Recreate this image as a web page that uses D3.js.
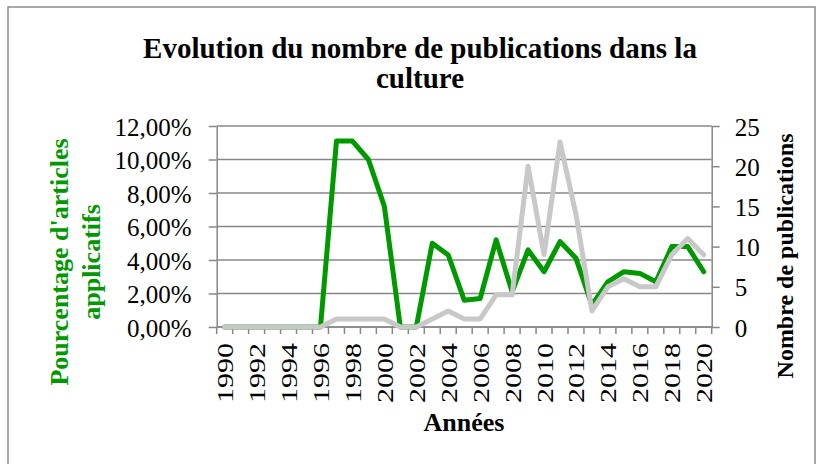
<!DOCTYPE html>
<html>
<head>
<meta charset="utf-8">
<script src="https://cdn.jsdelivr.net/npm/d3@7"></script>
<style>
  html, body { margin: 0; padding: 0; background: #fff; }
  svg { display: block; }
  text { font-family: "Liberation Serif", "Times New Roman", serif; }
</style>
</head>
<body>
<svg id="chart" width="821" height="464"></svg>
<script>
// Years on the category axis
const years = d3.range(1990, 2021);
// Share of applied articles (%), primary axis
const pctApplied = [0, 0, 0, 0, 0, 0, 0, 11.1, 11.1, 10.0, 7.2, 0, 0, 5.0, 4.3, 1.6, 1.7,
  5.2, 2.1, 4.6, 3.3, 5.1, 4.1, 1.3, 2.7, 3.3, 3.2, 2.7, 4.8, 4.8, 3.3];
// Number of publications, secondary axis
const pubCount = [0, 0, 0, 0, 0, 0, 0, 1, 1, 1, 1, 0, 0, 1, 2, 1, 1,
  4, 4, 20, 9, 23, 14, 2, 5, 6, 5, 5, 9, 11, 9];
// Tick values
const leftTicks = [0, 2, 4, 6, 8, 10, 12];
const rightTicks = [0, 5, 10, 15, 20, 25];
const yearLabels = d3.range(1990, 2021, 2);

const titleLines = ["Evolution du nombre de publications dans la", "culture"];
const leftTitleLines = ["Pourcentage d'articles", "applicatifs"];
const rightTitle = "Nombre de publications";
const xTitle = "Années";

const GREEN = "#009900";
const GREY_LINE = "#c8c8c8";
const AXIS = "#878787";

const svg = d3.select("#chart");

// outer chart frame
svg.append("rect")
  .attr("x", 8).attr("y", 7).attr("width", 807).attr("height", 480)
  .attr("fill", "#fff").attr("stroke", "#8c8c8c").attr("stroke-width", 1.5);

const plot = { left: 216.7, right: 711.7, top: 126, bottom: 327 };

const x = d3.scaleBand().domain(years).range([plot.left, plot.right]).padding(0);
const cx = d => x(d) + x.bandwidth() / 2;
const yL = d3.scaleLinear().domain([0, 12]).range([plot.bottom, plot.top]);
const yR = d3.scaleLinear().domain([0, 25]).range([plot.bottom, plot.top]);

// title
svg.append("text")
  .attr("x", 420).attr("text-anchor", "middle")
  .attr("font-size", 29).attr("font-weight", "bold").attr("fill", "#000")
  .selectAll("tspan").data(titleLines).join("tspan")
  .attr("x", 420).attr("y", (d, i) => 58 + i * 29.5)
  .text(d => d);

// horizontal gridlines
svg.append("g").selectAll("line").data(leftTicks).join("line")
  .attr("x1", plot.left).attr("x2", plot.right)
  .attr("y1", d => yL(d)).attr("y2", d => yL(d))
  .attr("stroke", AXIS).attr("stroke-width", 1.5);

// left axis
const leftAxis = d3.axisLeft(yL).tickValues(leftTicks).tickSize(8).tickSizeOuter(0)
  .tickFormat(d => d.toFixed(2).replace(".", ",") + "%");
const gL = svg.append("g").attr("transform", `translate(${plot.left},0)`).call(leftAxis);
gL.attr("font-family", null);
gL.select(".domain").attr("stroke", AXIS).attr("stroke-width", 1.5);
gL.selectAll(".tick line").attr("stroke", AXIS).attr("stroke-width", 1.5);
gL.selectAll(".tick text")
  .attr("x", -25).attr("dy", "0.36em")
  .attr("font-size", 25)
  .attr("fill", "#000");

// right axis
const rightAxis = d3.axisRight(yR).tickValues(rightTicks).tickSize(8).tickSizeOuter(0);
const gR = svg.append("g").attr("transform", `translate(${plot.right},0)`).call(rightAxis);
gR.attr("font-family", null);
gR.select(".domain").attr("stroke", AXIS).attr("stroke-width", 1.5);
gR.selectAll(".tick line").attr("stroke", AXIS).attr("stroke-width", 1.5);
gR.selectAll(".tick text")
  .attr("x", 23).attr("dy", "0.36em")
  .attr("font-size", 25)
  .attr("fill", "#000");

// category axis: ticks sit on the boundaries between years
const gX = svg.append("g");
gX.append("line")
  .attr("x1", plot.left).attr("x2", plot.right)
  .attr("y1", plot.bottom).attr("y2", plot.bottom)
  .attr("stroke", AXIS).attr("stroke-width", 1.5);
gX.selectAll("line.tk").data(years.concat([null])).join("line")
  .attr("class", "tk")
  .attr("x1", d => d === null ? plot.right : x(d))
  .attr("x2", d => d === null ? plot.right : x(d))
  .attr("y1", plot.bottom).attr("y2", plot.bottom + 7)
  .attr("stroke", AXIS).attr("stroke-width", 1.5);
gX.selectAll("text").data(yearLabels).join("text")
  .attr("transform", d => `translate(${cx(d) + 8.5},${plot.bottom + 16}) rotate(-90) scale(1.25,1)`)
  .attr("text-anchor", "end")
  .attr("font-size", 24).attr("fill", "#000")
  .text(d => d);

// axis titles
svg.append("text")
  .attr("x", 464).attr("y", 431).attr("text-anchor", "middle")
  .attr("font-size", 26).attr("font-weight", "bold").attr("fill", "#000")
  .text(xTitle);

svg.append("g").selectAll("text").data(leftTitleLines).join("text")
  .attr("transform", (d, i) => `translate(${68 + i * 32},262) rotate(-90)`)
  .attr("text-anchor", "middle")
  .attr("font-size", 26).attr("font-weight", "bold").attr("fill", GREEN)
  .text(d => d);

svg.append("text")
  .attr("transform", `translate(793,256) rotate(-90)`)
  .attr("text-anchor", "middle")
  .attr("font-size", 24).attr("font-weight", "bold").attr("fill", "#000")
  .text(rightTitle);

// series lines
const lineL = d3.line().x((d, i) => cx(years[i])).y(d => yL(d));
const lineR = d3.line().x((d, i) => cx(years[i])).y(d => yR(d));

svg.append("path").datum(pctApplied)
  .attr("d", lineL).attr("fill", "none")
  .attr("stroke", GREEN).attr("stroke-width", 5)
  .attr("stroke-linejoin", "round").attr("stroke-linecap", "round");

svg.append("path").datum(pubCount)
  .attr("d", lineR).attr("fill", "none")
  .attr("stroke", GREY_LINE).attr("stroke-width", 5)
  .attr("stroke-linejoin", "round").attr("stroke-linecap", "round");
</script>
</body>
</html>
